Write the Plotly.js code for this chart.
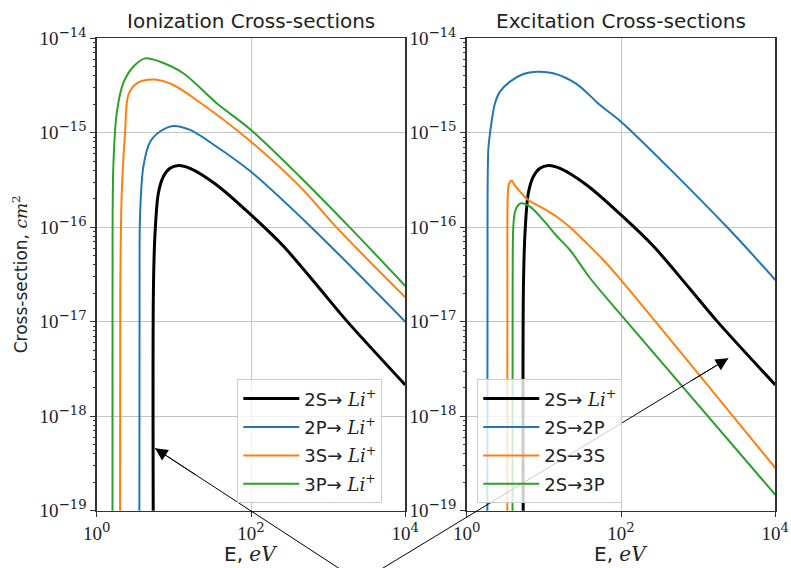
<!DOCTYPE html>
<html>
<head>
<meta charset="utf-8">
<script src="https://cdn.plot.ly/plotly-3.0.1.min.js"></script>
<style>html,body{margin:0;padding:0;background:#fff}#chart{width:791px;height:568px}</style>
</head>
<body>
<div id="chart"></div>
<script>
// ---- Ionization cross-sections (E in eV, sigma in cm^2) ----
const ionE_2S = [5.42, 5.43, 5.70, 6.29, 7.29, 8.91, 11.42, 16.2, 35.9, 100, 262, 784, 1740, 10000];
const ionS_2S = [3e-20, 2.16e-17, 8.69e-17, 2.29e-16, 3.42e-16, 4.20e-16, 4.50e-16, 4.20e-16, 2.80e-16, 1.35e-16, 6.32e-17, 2.22e-17, 1.02e-17, 2.14e-18];

const ionE_2P = [3.565, 3.59, 3.64, 4.02, 4.91, 6.61, 9.84, 16.2, 35.9, 100, 612, 10000];
const ionS_2P = [3e-20, 2.16e-17, 1.29e-16, 4.37e-16, 7.97e-16, 1.03e-15, 1.18e-15, 1.07e-15, 7.11e-16, 3.86e-16, 9.89e-17, 1.0e-17];

const ionE_3S = [2.005, 2.017, 2.109, 2.327, 2.57, 3.30, 5.53, 9.84, 21.8, 100, 431, 1291, 10000];
const ionS_3S = [3e-20, 2.16e-17, 2.29e-16, 9.86e-16, 2.51e-15, 3.33e-15, 3.65e-15, 3.20e-15, 2.09e-15, 8.03e-16, 2.69e-16, 9.89e-17, 1.81e-17];

const ionE_3P = [1.600, 1.602, 1.641, 1.817, 2.213, 2.98, 4.23, 6.61, 13.26, 35.9, 100, 431, 1919, 10000];
const ionS_3P = [3e-20, 2.16e-17, 4.37e-16, 1.61e-15, 3.36e-15, 4.99e-15, 6.12e-15, 5.64e-15, 4.26e-15, 2.05e-15, 1.07e-15, 3.42e-16, 9.89e-17, 2.39e-17];

// ---- Excitation cross-sections ----
const excE_2P = [1.849, 1.861, 1.905, 2.005, 2.327, 2.70, 3.64, 5.42, 8.08, 13.25, 26.7, 53.4, 100, 2344, 10000];
const excS_2P = [3e-20, 2.16e-17, 6.56e-16, 9.86e-16, 2.05e-15, 2.72e-15, 3.47e-15, 4.18e-15, 4.42e-15, 4.26e-15, 3.27e-15, 1.96e-15, 1.31e-15, 1.01e-16, 2.76e-17];

const excE_3S = [3.36, 3.37, 3.41, 3.53, 3.83, 4.16, 4.91, 6.29, 9.84, 14.68, 21.8, 35.9, 59.0, 100, 10000];
const excS_3S = [3e-20, 2.16e-17, 2.19e-16, 2.86e-16, 3.12e-16, 2.80e-16, 2.38e-16, 1.94e-16, 1.58e-16, 1.29e-16, 9.98e-17, 6.76e-17, 4.50e-17, 2.76e-17, 2.83e-19];

const excE_3P = [3.92, 3.94, 4.02, 4.23, 4.67, 5.16, 6.61, 9.84, 14.68, 21.8, 39.6, 100, 10000];
const excS_3P = [3e-20, 2.16e-17, 1.01e-16, 1.46e-16, 1.72e-16, 1.79e-16, 1.65e-16, 1.19e-16, 8.07e-17, 5.74e-17, 2.90e-17, 1.18e-17, 1.47e-19];

// ---- Labels ----
const SERIF = "font-family:'DejaVu Serif'";
const liPlus = `<span style="${SERIF}"><i>Li</i><sup>+</sup></span>`;
const ionLabels = [`2S→ ${liPlus}`, `2P→ ${liPlus}`, `3S→ ${liPlus}`, `3P→ ${liPlus}`];
const excLabels = [`2S→ ${liPlus}`, '2S→2P', '2S→3S', '2S→3P'];
const xTickVals = [1, 100, 10000];
const xTickExp = ['0', '2', '4'];
const yTickVals = [1e-19, 1e-18, 1e-17, 1e-16, 1e-15, 1e-14];
const yTickExp = ['−19', '−18', '−17', '−16', '−15', '−14'];
const pow10 = e => `10<sup><span style="${SERIF}">${e}</span></sup>`;

const colors = ['#000000', '#1f77b4', '#ff7f0e', '#2ca02c'];
const widths = [3, 2, 2, 2];

const minorVals = [];
for (let d = -19; d < -14; d++) for (let k = 2; k <= 9; k++) minorVals.push(k * Math.pow(10, d));

function tr(x, y, i, name, xa, ya, leg) {
  return {x: x, y: y, name: name, xaxis: xa, yaxis: ya, legend: leg, legendgroup: leg + i, type: 'scatter', mode: 'lines',
    line: {color: colors[i], width: widths[i], shape: 'spline', smoothing: 0.9}, cliponaxis: true};
}

const data = [
  tr(ionE_2S, ionS_2S, 0, ionLabels[0], 'x', 'y', 'legend'),
  tr(ionE_2P, ionS_2P, 1, ionLabels[1], 'x', 'y', 'legend'),
  tr(ionE_3S, ionS_3S, 2, ionLabels[2], 'x', 'y', 'legend'),
  tr(ionE_3P, ionS_3P, 3, ionLabels[3], 'x', 'y', 'legend'),
  tr(ionE_2S, ionS_2S, 0, excLabels[0], 'x2', 'y2', 'legend2'),
  tr(excE_2P, excS_2P, 1, excLabels[1], 'x2', 'y2', 'legend2'),
  tr(excE_3S, excS_3S, 2, excLabels[2], 'x2', 'y2', 'legend2'),
  tr(excE_3P, excS_3P, 3, excLabels[3], 'x2', 'y2', 'legend2')
];

const tickFont = {family: 'Liberation Serif', size: 19, color: '#222'};
function xAxis(domain, anchor) {
  return {type: 'log', range: [0, 4], domain: domain, anchor: anchor, tickmode: 'array', tickvals: xTickVals, ticktext: xTickExp.map(pow10),
    tickfont: tickFont, ticks: 'outside', ticklen: 5, tickcolor: '#333', showline: true, mirror: true, linecolor: '#333', linewidth: 1.3,
    showgrid: true, gridcolor: '#c4c4c4', gridwidth: 1, zeroline: false, automargin: false, fixedrange: true};
}
function yAxis(anchor) {
  return {type: 'log', range: [-19, -14], domain: [0.1009, 0.9327], anchor: anchor, tickmode: 'array', tickvals: yTickVals, ticktext: yTickExp.map(pow10),
    tickfont: tickFont, ticks: 'outside', ticklen: 5, tickcolor: '#333', showline: true, mirror: true, linecolor: '#333', linewidth: 1.3,
    showgrid: true, gridcolor: '#c4c4c4', gridwidth: 1, zeroline: false, automargin: false, fixedrange: true,
    minor: {tickmode: 'array', tickvals: minorVals, ticks: 'outside', ticklen: 2.5, tickcolor: '#333', showgrid: false}};
}
const legendStyle = {bgcolor: 'rgba(255,255,255,0.8)', bordercolor: '#cccccc', borderwidth: 1, itemwidth: 56,
  font: {family: 'DejaVu Sans', size: 18, color: '#222'}, xanchor: 'left', yanchor: 'top', tracegroupgap: 2};

const sans = {family: 'DejaVu Sans', size: 20, color: '#222'};
const xTitle = `E, <span style="${SERIF}"><i>eV</i></span>`;
const arrowStyle = {text: '', showarrow: true, arrowhead: 2, arrowsize: 2.5, arrowwidth: 1, arrowcolor: '#000',
  font: {size: 1}, borderpad: 0, xanchor: 'center', yanchor: 'middle'};
// arrow geometry (paper fractions): heads and a common tail below the figure
const arrowTail = {x: 0.4551, y: -0.0247};
const arrowHeadL = {x: 0.1960, y: 0.2107};
const arrowHeadR = {x: 0.9207, y: 0.3692};
const layout = {
  width: 791, height: 568,
  margin: {l: 0, r: 0, t: 0, b: 0},
  paper_bgcolor: '#ffffff', plot_bgcolor: '#ffffff',
  showlegend: true,
  xaxis: xAxis([0.1223, 0.5124], 'y'),
  yaxis: yAxis('x'),
  xaxis2: xAxis([0.5900, 0.9802], 'y2'),
  yaxis2: yAxis('x2'),
  legend: Object.assign({x: 0.300, y: 0.332}, legendStyle),
  legend2: Object.assign({x: 0.6034, y: 0.332}, legendStyle),
  shapes: [
    {type: 'line', xref: 'paper', yref: 'paper', x0: arrowTail.x, y0: arrowTail.y, x1: arrowHeadL.x, y1: arrowHeadL.y, line: {color: '#000', width: 1}, layer: 'above'},
    {type: 'line', xref: 'paper', yref: 'paper', x0: arrowTail.x, y0: arrowTail.y, x1: arrowHeadR.x, y1: arrowHeadR.y, line: {color: '#000', width: 1}, layer: 'above'}
  ],
  annotations: [
    {text: 'Ionization Cross-sections', xref: 'x domain', x: 0.5, yref: 'paper', y: 0.963, xanchor: 'center', yanchor: 'middle', showarrow: false, font: sans},
    {text: 'Excitation Cross-sections', xref: 'x2 domain', x: 0.5, yref: 'paper', y: 0.963, xanchor: 'center', yanchor: 'middle', showarrow: false, font: sans},
    {text: xTitle, xref: 'x domain', x: 0.5, yref: 'paper', y: 0.024, xanchor: 'center', yanchor: 'middle', showarrow: false, font: {family: 'DejaVu Sans', size: 20, color: '#222'}},
    {text: xTitle, xref: 'x2 domain', x: 0.5, yref: 'paper', y: 0.024, xanchor: 'center', yanchor: 'middle', showarrow: false, font: {family: 'DejaVu Sans', size: 20, color: '#222'}},
    {text: `Cross-section, <span style="${SERIF}"><i>cm</i><sup>2</sup></span>`, xref: 'paper', x: 0.0253, yref: 'paper', y: 0.517, xanchor: 'center', yanchor: 'middle', textangle: -90, showarrow: false, font: {family: 'DejaVu Sans', size: 17, color: '#222'}},
    Object.assign({xref: 'paper', yref: 'paper', x: arrowHeadL.x, y: arrowHeadL.y, ax: 41, ay: 26.8}, arrowStyle),
    Object.assign({xref: 'paper', yref: 'paper', x: arrowHeadR.x, y: arrowHeadR.y, ax: -36.8, ay: 22.4}, arrowStyle)
  ]
};

Plotly.newPlot('chart', data, layout, {displayModeBar: false, staticPlot: true});
</script>
</body>
</html>
